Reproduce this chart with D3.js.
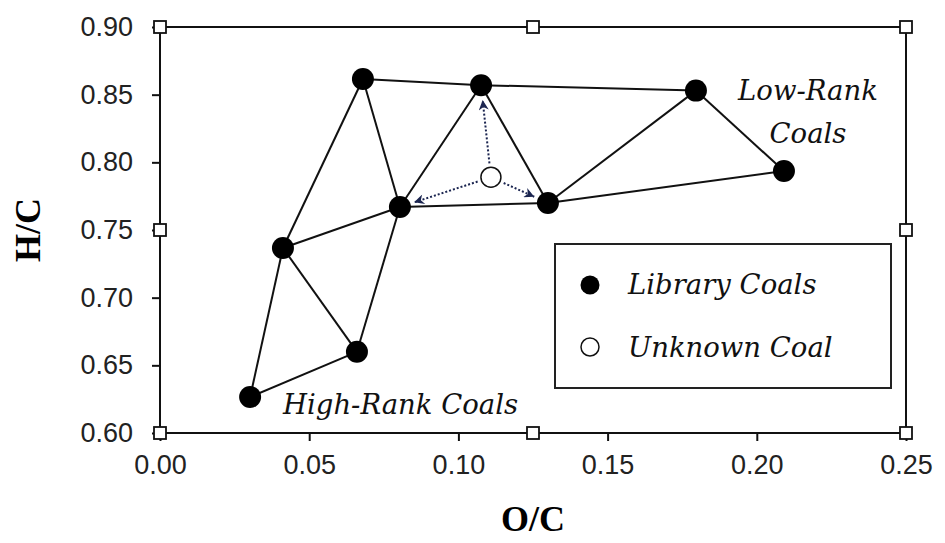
<!DOCTYPE html>
<html><head><meta charset="utf-8">
<script src="https://cdn.jsdelivr.net/npm/d3@7/dist/d3.min.js"></script>
<style>
html,body{margin:0;padding:0;background:#fff;}
svg{display:block;}
</style></head>
<body>
<svg id="chart" width="945" height="543"></svg>
<script>
// ---- data ----
const libraryOC = [0.0680, 0.1076, 0.1796, 0.2091, 0.1300, 0.0804, 0.0412, 0.0660, 0.0302];
const libraryHC = [0.8616, 0.8570, 0.8530, 0.7936, 0.7700, 0.7670, 0.7367, 0.6600, 0.6266];
const edges = [[0,1],[1,2],[2,3],[3,4],[2,4],[1,4],[1,5],[0,5],[0,6],[5,4],[6,5],[6,7],[5,7],[6,8],[8,7]];
const unknownOC = [0.1109];
const unknownHC = [0.789];
const arrowTargets = [1, 5, 4];
const xTicks = [0.00, 0.05, 0.10, 0.15, 0.20, 0.25];
const yTicks = [0.60, 0.65, 0.70, 0.75, 0.80, 0.85, 0.90];
const xSquares = [0, 0.125, 0.25];
const ySquares = [0.6, 0.75, 0.9];

const svg = d3.select("#chart");
const x = d3.scaleLinear().domain([0, 0.25]).range([160, 906]);
const y = d3.scaleLinear().domain([0.6, 0.9]).range([433, 27]);

const defs = svg.append("defs");
defs.append("marker").attr("id","ah").attr("viewBox","0 0 10 10")
  .attr("refX",10).attr("refY",5).attr("markerWidth",14).attr("markerHeight",10)
  .attr("markerUnits","userSpaceOnUse").attr("orient","auto")
  .append("path").attr("d","M0,0 L10,5 L0,10 L3,5 Z").attr("fill","#1b2550");

// frame
const frame = svg.append("g");
frame.append("rect").attr("x",x(0)).attr("y",y(0.9)).attr("width",x(0.25)-x(0)).attr("height",y(0.6)-y(0.9))
  .attr("fill","none").attr("stroke","#111").attr("stroke-width",2);

// axes
const yAxis = d3.axisLeft(y).tickValues(yTicks).tickFormat(d3.format(".2f")).tickSize(8).tickPadding(19);
const gy = svg.append("g").attr("transform",`translate(${x(0)},0)`).call(yAxis);
const xAxis = d3.axisBottom(x).tickValues(xTicks).tickFormat(d3.format(".2f")).tickSize(8).tickPadding(14);
const gx = svg.append("g").attr("transform",`translate(0,${y(0.6)})`).call(xAxis);
[gy, gx].forEach(g => {
  g.select(".domain").remove();
  g.selectAll(".tick line").attr("stroke","#111").attr("stroke-width",2);
  g.selectAll(".tick text").attr("font-family","Liberation Sans, Arial, sans-serif")
    .attr("font-size",27).attr("fill","#222");
});
gx.selectAll(".tick text").attr("dy","0.71em");

// edges
svg.append("g").selectAll("line").data(edges).join("line")
  .attr("x1",d=>x(libraryOC[d[0]])).attr("y1",d=>y(libraryHC[d[0]]))
  .attr("x2",d=>x(libraryOC[d[1]])).attr("y2",d=>y(libraryHC[d[1]]))
  .attr("stroke","#111").attr("stroke-width",2);

// arrows
const ux = x(unknownOC[0]), uy = y(unknownHC[0]);
svg.append("g").selectAll("line").data(arrowTargets).join("line")
  .each(function(i){
    const tx = x(libraryOC[i]), ty = y(libraryHC[i]);
    const dx = tx-ux, dy = ty-uy, L = Math.hypot(dx,dy);
    const s = 14/L, e = (L-15)/L;
    d3.select(this).attr("x1",ux+dx*s).attr("y1",uy+dy*s).attr("x2",ux+dx*e).attr("y2",uy+dy*e);
  })
  .attr("stroke","#1b2550").attr("stroke-width",2).attr("stroke-dasharray","2,2")
  .attr("marker-end","url(#ah)");

// points
svg.append("g").selectAll("circle").data(libraryOC).join("circle")
  .attr("cx",(d)=>x(d)).attr("cy",(d,i)=>y(libraryHC[i])).attr("r",11).attr("fill","#000");
svg.append("g").selectAll("circle").data(unknownOC).join("circle")
  .attr("cx",d=>x(d)).attr("cy",(d,i)=>y(unknownHC[i])).attr("r",10)
  .attr("fill","#fff").attr("stroke","#111").attr("stroke-width",1.5);

// squares on frame
const sq = 12;
const sqPts = [];
xSquares.forEach(v => { sqPts.push([x(v), y(0.9)]); sqPts.push([x(v), y(0.6)]); });
sqPts.push([x(0), y(0.75)]); sqPts.push([x(0.25), y(0.75)]);
svg.append("g").selectAll("rect").data(sqPts).join("rect")
  .attr("x",d=>d[0]-sq/2).attr("y",d=>d[1]-sq/2).attr("width",sq).attr("height",sq)
  .attr("fill","#fff").attr("stroke","#111").attr("stroke-width",1.8);

// annotations
const annFont = "DejaVu Serif, serif";
const ann = svg.append("g").attr("font-family",annFont).attr("font-style","italic").attr("font-size",27.5).attr("fill","#111");
ann.append("text").attr("x",283).attr("y",414).text("High-Rank Coals");
ann.append("text").attr("x",808).attr("y",100).attr("text-anchor","middle").text("Low-Rank");
ann.append("text").attr("x",808).attr("y",143).attr("text-anchor","middle").text("Coals");

// legend
const lg = svg.append("g");
lg.append("rect").attr("x",555).attr("y",244).attr("width",336).attr("height",144)
  .attr("fill","#fff").attr("stroke","#222").attr("stroke-width",2);
lg.append("circle").attr("cx",590).attr("cy",285).attr("r",9.5).attr("fill","#000");
lg.append("circle").attr("cx",590).attr("cy",347).attr("r",9).attr("fill","#fff").attr("stroke","#111").attr("stroke-width",1.5);
lg.append("text").attr("x",628).attr("y",294).attr("font-family",annFont).attr("font-style","italic").attr("font-size",27.5).attr("fill","#111").text("Library Coals");
lg.append("text").attr("x",628).attr("y",357).attr("font-family",annFont).attr("font-style","italic").attr("font-size",27.5).attr("fill","#111").text("Unknown Coal");

// axis titles
svg.append("text").attr("x",533).attr("y",531).attr("text-anchor","middle")
  .attr("font-family","Liberation Serif, Times New Roman, serif").attr("font-weight","bold").attr("font-size",36).attr("fill","#000").text("O/C");
svg.append("text").attr("transform",`translate(40,${y(0.75)}) rotate(-90)`).attr("text-anchor","middle")
  .attr("font-family","Liberation Serif, Times New Roman, serif").attr("font-weight","bold").attr("font-size",36).attr("fill","#000").text("H/C");
</script>
</body></html>
